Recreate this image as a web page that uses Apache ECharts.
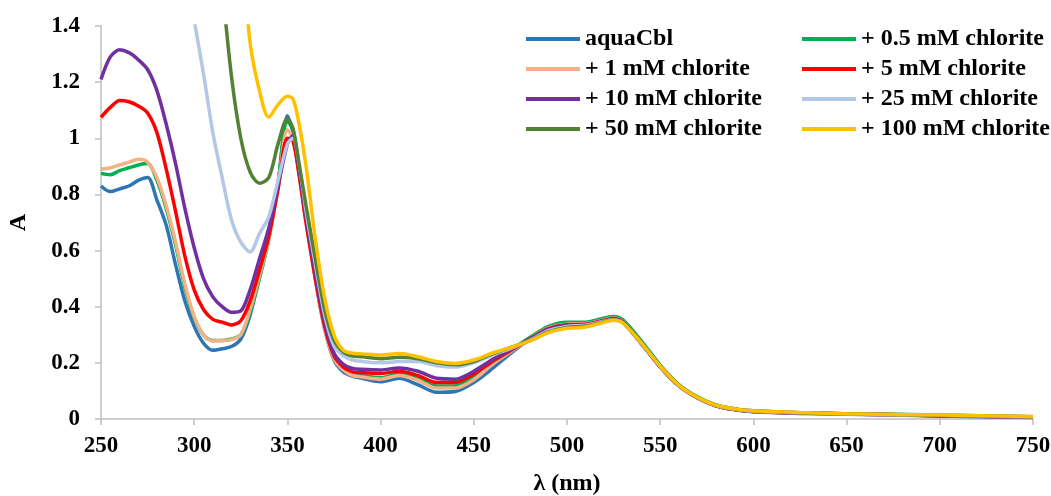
<!DOCTYPE html>
<html>
<head>
<meta charset="utf-8">
<title>aquaCbl + chlorite</title>
<script src="https://cdn.jsdelivr.net/npm/echarts@6/dist/echarts.min.js"></script>
<style>
  html, body { margin: 0; padding: 0; background: #fff; }
  #chart { width: 1051px; height: 496px; }
</style>
</head>
<body>
<div id="chart"></div>
<script>
// wavelengths (nm)
const wavelengths = [250, 255, 260, 265, 270, 275, 280, 285, 290, 295, 300, 305, 310, 315, 320, 325, 330, 335, 340, 345,
  350, 353, 356, 360, 365, 370, 375, 380, 385, 390,
  400, 410, 420, 430, 440, 450, 460, 470, 480, 490, 500, 510, 520,
  525, 530, 540, 550, 560, 570, 580, 590, 600,
  625, 650, 700, 750];

const seriesNames = ['aquaCbl', '+ 0.5 mM chlorite', '+ 1 mM chlorite', '+ 5 mM chlorite',
  '+ 10 mM chlorite', '+ 25 mM chlorite', '+ 50 mM chlorite', '+ 100 mM chlorite'];

const colors = ['#2E75B6', '#00B050', '#F4B183', '#FF0000', '#7030A0', '#B4C7E7', '#548235', '#FFC000'];

const aquaCbl = [0.83, 0.81, 0.82, 0.83, 0.85, 0.86, 0.78, 0.69, 0.55, 0.42, 0.33, 0.27, 0.245, 0.25, 0.258, 0.285, 0.37, 0.51, 0.65, 0.84,
  1.08, 1.02, 0.89, 0.73, 0.50, 0.32, 0.21, 0.168, 0.152, 0.145,
  0.133, 0.145, 0.122, 0.095, 0.098, 0.13, 0.18, 0.235, 0.285, 0.322, 0.336, 0.338, 0.352,
  0.358, 0.345, 0.268, 0.185, 0.118, 0.075, 0.046, 0.033, 0.026,
  0.02, 0.017, 0.011, 0.005];

const chlorite05 = [0.875, 0.87, 0.885, 0.895, 0.905, 0.91, 0.85, 0.75, 0.62, 0.47, 0.36, 0.30, 0.28, 0.28, 0.285, 0.30, 0.38, 0.50, 0.64, 0.84,
  1.06, 1.03, 0.91, 0.72, 0.51, 0.33, 0.22, 0.18, 0.16, 0.157,
  0.147, 0.16, 0.145, 0.118, 0.118, 0.15, 0.2, 0.245, 0.29, 0.33, 0.345, 0.345, 0.36,
  0.365, 0.353, 0.277, 0.192, 0.123, 0.079, 0.05, 0.036, 0.029,
  0.022, 0.019, 0.014, 0.008];

const chlorite1 = [0.89, 0.895, 0.905, 0.915, 0.925, 0.915, 0.86, 0.76, 0.63, 0.48, 0.365, 0.30, 0.278, 0.28, 0.283, 0.30, 0.39, 0.51, 0.64, 0.82,
  1.03, 1.0, 0.89, 0.70, 0.50, 0.32, 0.215, 0.175, 0.155, 0.15,
  0.142, 0.155, 0.138, 0.11, 0.11, 0.14, 0.195, 0.24, 0.285, 0.325, 0.338, 0.34, 0.354,
  0.36, 0.347, 0.27, 0.187, 0.12, 0.076, 0.047, 0.034, 0.027,
  0.021, 0.018, 0.012, 0.006];

const chlorite5 = [1.075, 1.11, 1.135, 1.13, 1.115, 1.09, 1.02, 0.89, 0.74, 0.58, 0.46, 0.39, 0.355, 0.345, 0.335, 0.35, 0.42, 0.53, 0.65, 0.82,
  1.0, 0.99, 0.88, 0.70, 0.50, 0.33, 0.225, 0.185, 0.168, 0.165,
  0.162, 0.17, 0.155, 0.13, 0.13, 0.16, 0.205, 0.245, 0.285, 0.322, 0.336, 0.338, 0.352,
  0.358, 0.345, 0.268, 0.186, 0.119, 0.076, 0.047, 0.034, 0.027,
  0.021, 0.018, 0.012, 0.006];

const chlorite10 = [1.21, 1.29, 1.315, 1.305, 1.28, 1.245, 1.17, 1.05, 0.91, 0.75, 0.61, 0.50, 0.435, 0.40, 0.38, 0.385, 0.46, 0.57, 0.68, 0.83,
  0.98, 1.01, 0.90, 0.72, 0.52, 0.345, 0.235, 0.195, 0.18, 0.177,
  0.175, 0.182, 0.17, 0.145, 0.142, 0.17, 0.212, 0.248, 0.284, 0.32, 0.334, 0.336, 0.35,
  0.356, 0.344, 0.268, 0.186, 0.119, 0.076, 0.047, 0.034, 0.027,
  0.021, 0.018, 0.012, 0.006];

const chlorite25 = [null, null, null, null, null, null, null, null, 1.82, 1.62, 1.42, 1.23, 1.02, 0.86, 0.71, 0.63, 0.595, 0.66, 0.72, 0.85,
  0.98, 1.0, 0.92, 0.74, 0.55, 0.37, 0.26, 0.225, 0.21, 0.205,
  0.2, 0.205, 0.205, 0.19, 0.185, 0.2, 0.228, 0.252, 0.28, 0.315, 0.33, 0.334, 0.348,
  0.354, 0.343, 0.268, 0.187, 0.12, 0.077, 0.048, 0.035, 0.028,
  0.022, 0.018, 0.013, 0.007];

const chlorite50 = [null, null, null, null, null, null, null, null, null, null, null, null, 1.85, 1.54, 1.22, 1.0, 0.88, 0.84, 0.86, 0.98,
  1.07, 1.035, 0.92, 0.76, 0.57, 0.39, 0.28, 0.238, 0.224, 0.222,
  0.215, 0.22, 0.215, 0.2, 0.193, 0.205, 0.232, 0.255, 0.278, 0.31, 0.326, 0.331, 0.347,
  0.353, 0.343, 0.27, 0.188, 0.12, 0.077, 0.049, 0.036, 0.029,
  0.022, 0.019, 0.013, 0.008];

const chlorite100 = [null, null, null, null, null, null, null, null, null, null, null, null, null, null, 2.0, 1.7, 1.34, 1.17, 1.075, 1.12,
  1.15, 1.14, 1.06, 0.90, 0.64, 0.43, 0.30, 0.245, 0.234, 0.232,
  0.228, 0.233, 0.222, 0.205, 0.198, 0.21, 0.235, 0.255, 0.278, 0.308, 0.323, 0.328, 0.345,
  0.352, 0.342, 0.27, 0.188, 0.12, 0.077, 0.049, 0.036, 0.029,
  0.023, 0.019, 0.014, 0.009];

const allValues = [aquaCbl, chlorite05, chlorite1, chlorite5, chlorite10, chlorite25, chlorite50, chlorite100];

const font = '"Liberation Serif", "Times New Roman", serif';
const axisGray = '#BFBFBF';

const chart = echarts.init(document.getElementById('chart'));

const series = allValues.map((vals, k) => ({
  name: seriesNames[k],
  type: 'line',
  data: wavelengths.map((w, i) => [w, vals[i]]),
  symbol: 'none',
  smooth: 0.3,
  clip: true,
  lineStyle: { color: colors[k], width: 3.5 },
  itemStyle: { color: colors[k] }
}));

// two legend columns, 4 rows each
const legendCommon = {
  orient: 'vertical',
  top: 27,
  padding: 0,
  icon: 'rect',
  itemWidth: 54,
  itemHeight: 4,
  itemGap: 6,
  textStyle: { fontFamily: font, fontWeight: 'bold', fontSize: 24, color: '#000' }
};

const option = {
  animation: false,
  // fixed plot box; don't let v6 shrink it to fit labels
  grid: { left: 101, right: 18, top: 26, bottom: 77, outerBoundsMode: 'none' },
  legend: [
    Object.assign({ left: 526, data: [seriesNames[0], seriesNames[2], seriesNames[4], seriesNames[6]] }, legendCommon),
    Object.assign({ left: 802, data: [seriesNames[1], seriesNames[3], seriesNames[5], seriesNames[7]] }, legendCommon)
  ],
  xAxis: {
    type: 'value',
    min: 250,
    max: 750,
    interval: 50,
    name: 'λ (nm)',
    nameLocation: 'middle',
    nameGap: 53,
    nameTextStyle: { fontFamily: font, fontWeight: 'bold', fontSize: 24, color: '#000' },
    axisLine: { lineStyle: { color: axisGray, width: 1.5 } },
    axisTick: { show: true, length: 6, lineStyle: { color: axisGray, width: 1.5 } },
    axisLabel: { margin: 16, fontFamily: font, fontWeight: 'bold', fontSize: 23, color: '#000' },
    splitLine: { show: false }
  },
  yAxis: {
    type: 'value',
    min: 0,
    max: 1.4,
    interval: 0.2,
    name: 'A',
    nameLocation: 'middle',
    nameGap: 70,
    nameTextStyle: { fontFamily: font, fontWeight: 'bold', fontSize: 24, color: '#000' },
    axisLine: { show: true, lineStyle: { color: axisGray, width: 1.5 } },
    axisTick: { show: true, length: 6, lineStyle: { color: axisGray, width: 1.5 } },
    axisLabel: { margin: 21, fontFamily: font, fontWeight: 'bold', fontSize: 23, color: '#000' },
    splitLine: { show: false }
  },
  series: series
};

chart.setOption(option);
</script>
</body>
</html>
